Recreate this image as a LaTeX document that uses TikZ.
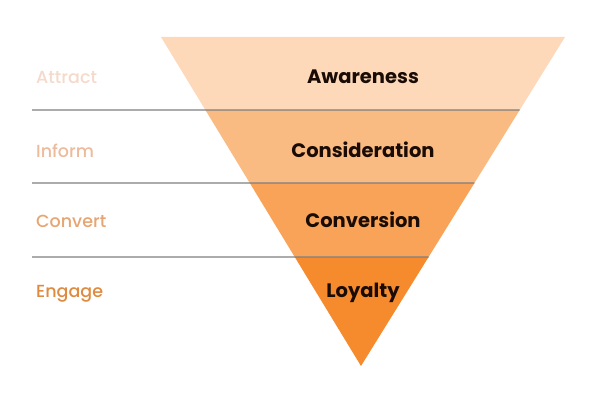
\documentclass[tikz,border=0pt]{standalone}
\usepackage{fontspec}
\setmainfont{Poppins}
\newfontfamily\medfont{Poppins Medium}
\usetikzlibrary{calc}
\definecolor{bandA}{HTML}{FDD9BA}
\definecolor{bandB}{HTML}{F9BB81}
\definecolor{bandC}{HTML}{F8A358}
\definecolor{bandD}{HTML}{F58B2C}
\definecolor{labA}{HTML}{F5DACB}
\definecolor{labB}{HTML}{EDBB9B}
\definecolor{labC}{HTML}{E6A572}
\definecolor{labD}{HTML}{E08A3F}
\definecolor{rule}{HTML}{7F7F7F}
\definecolor{ink}{HTML}{1A0C04}
\tikzset{
  stage/.style={font=\bfseries\fontsize{19.5}{22}\selectfont, text=ink, inner sep=0pt},
  side/.style={font=\medfont\fontsize{17.5}{20}\selectfont, anchor=west, inner sep=0pt},
  divider/.style={draw=rule, line width=1.4pt},
}
\begin{document}
\begin{tikzpicture}[x=1pt,y=-1pt]
\useasboundingbox (0,0) rectangle (590,401);
\coordinate (tl) at (161,37);
\coordinate (tr) at (565,37);
\coordinate (ap) at (361,366);
\begin{scope}
  \clip (tl) -- (tr) -- (ap) -- cycle;
  \fill[bandA] (150,30) rectangle (580,110);
  \fill[bandB] (150,110) rectangle (580,183);
  \fill[bandC] (150,183) rectangle (580,257);
  \fill[bandD] (150,257) rectangle (580,370);
\end{scope}
% dividers
\coordinate (l1) at (32,110);
\coordinate (r1) at ($(tr)!{73/329}!(ap)$);
\coordinate (l2) at (32,183);
\coordinate (r2) at ($(tr)!{146/329}!(ap)$);
\coordinate (l3) at (32,257);
\coordinate (r3) at ($(tr)!{220/329}!(ap)$);
\draw[divider] (l1) -- (r1);
\draw[divider] (l2) -- (r2);
\draw[divider] (l3) -- (r3);
% stage labels
\node[stage] (aw) at (363,77) {Awareness};
\node[stage] (co) at (363,150) {Consideration};
\node[stage] (cv) at (363,220) {Conversion};
\node[stage] (lo) at (363,293) {Loyalty};
% side labels
\node[side, text=labA] (at) at (36,77) {Attract};
\node[side, text=labB] (in) at (36,151) {Inform};
\node[side, text=labC] (cn) at (36,221) {Convert};
\node[side, text=labD] (en) at (36,294) {Engage};
\end{tikzpicture}
\end{document}
